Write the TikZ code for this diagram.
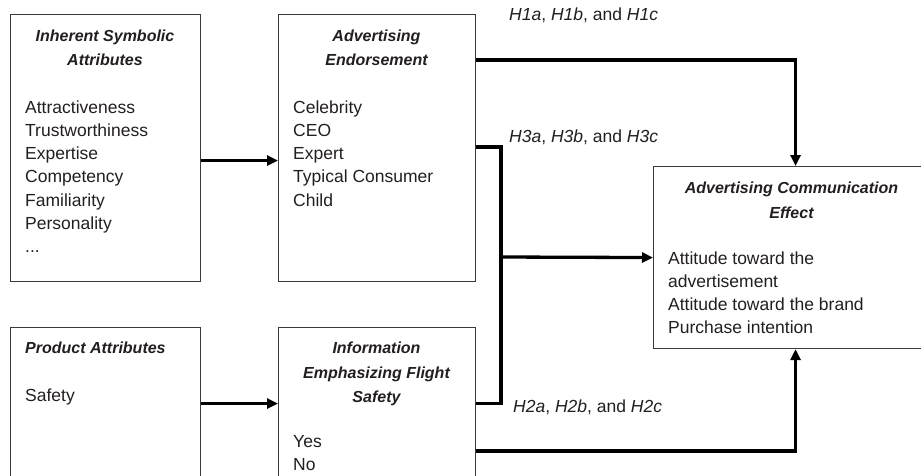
\documentclass[tikz,border=0pt]{standalone}
\usepackage{fontspec}
\setmainfont{Liberation Sans}
\usetikzlibrary{arrows.meta}
\definecolor{ink}{HTML}{231F20}
\definecolor{frame}{HTML}{3A3A3A}
\begin{document}
\begin{tikzpicture}[x=1pt,y=1pt,
  box/.style={draw=frame,line width=1.1pt,rectangle,inner sep=0pt,anchor=north west},
  head/.style={inner sep=0pt,text=ink,align=center,anchor=north,font=\fontsize{16}{24.3}\selectfont\bfseries\itshape},
  headl/.style={head,align=left,anchor=north west},
  body/.style={inner sep=0pt,text=ink,align=left,anchor=north west,font=\fontsize{17.5}{23.2}\selectfont},
  lab/.style={inner sep=0pt,text=ink,anchor=west,font=\fontsize{17.5}{21}\selectfont},
  arr/.style={draw=black,line width=3.3pt,-{Triangle[length=11pt,width=10pt]}},
  link/.style={draw=black,line width=3.3pt}]
\clip (0,0) rectangle (921,-475);
\fill[white] (0,0) rectangle (921,-475);
% boxes
\node[box,minimum width=190,minimum height=267] (b1) at (10,-14) {};
\node[box,minimum width=197,minimum height=267] (b2) at (278,-14) {};
\node[box,minimum width=190,minimum height=152] (b3) at (10,-327) {};
\node[box,minimum width=197,minimum height=152] (b4) at (278,-327) {};
\node[box,minimum width=284,minimum height=182] (b5) at (653,-166) {};
% texts
\node[head] (t1) at (105,-29.5) {Inherent Symbolic\\Attributes};
\node[body] (l1) at (25,-100.5) {Attractiveness\\Trustworthiness\\Expertise\\Competency\\Familiarity\\Personality\\...};
\node[head] (t2) at (376.5,-29.5) {Advertising\\Endorsement};
\node[body] (l2) at (293,-100.5) {Celebrity\\CEO\\Expert\\Typical Consumer\\Child};
\node[headl] (t3) at (25,-342) {Product Attributes};
\node[body] (l3) at (25,-388.5) {Safety};
\node[head] (t4) at (376.5,-342) {Information\\Emphasizing Flight\\Safety};
\node[body] (l4) at (293,-435.5) {Yes\\No};
\node[head] (t5) at (791.5,-182) {Advertising Communication\\Effect};
\node[body] (l5) at (668,-251.5) {Attitude toward the\\advertisement\\Attitude toward the brand\\Purchase intention};
% labels
\node[lab] (h1) at (509,-15) {\textit{H1a}, \textit{H1b}, and \textit{H1c}};
\node[lab] (h3) at (509,-137) {\textit{H3a}, \textit{H3b}, and \textit{H3c}};
\node[lab] (h2) at (513,-407) {\textit{H2a}, \textit{H2b}, and \textit{H2c}};
% connectors
\coordinate (jx) at (501,-257);
\draw[arr] ([yshift=-12.5pt]b1.east) -- ([yshift=-12.5pt]b2.west);
\draw[arr] (b3.east) -- (b4.west);
\draw[arr] ([yshift=-46pt]b2.north east) -| (b5.north);
\draw[link] ([yshift=-133pt]b2.north east) -| (jx) |- (b4.east);
\draw[arr] (jx) -- (b5.west);
\draw[arr] ([yshift=-124pt]b4.north east) -| (b5.south);
\end{tikzpicture}
\end{document}
